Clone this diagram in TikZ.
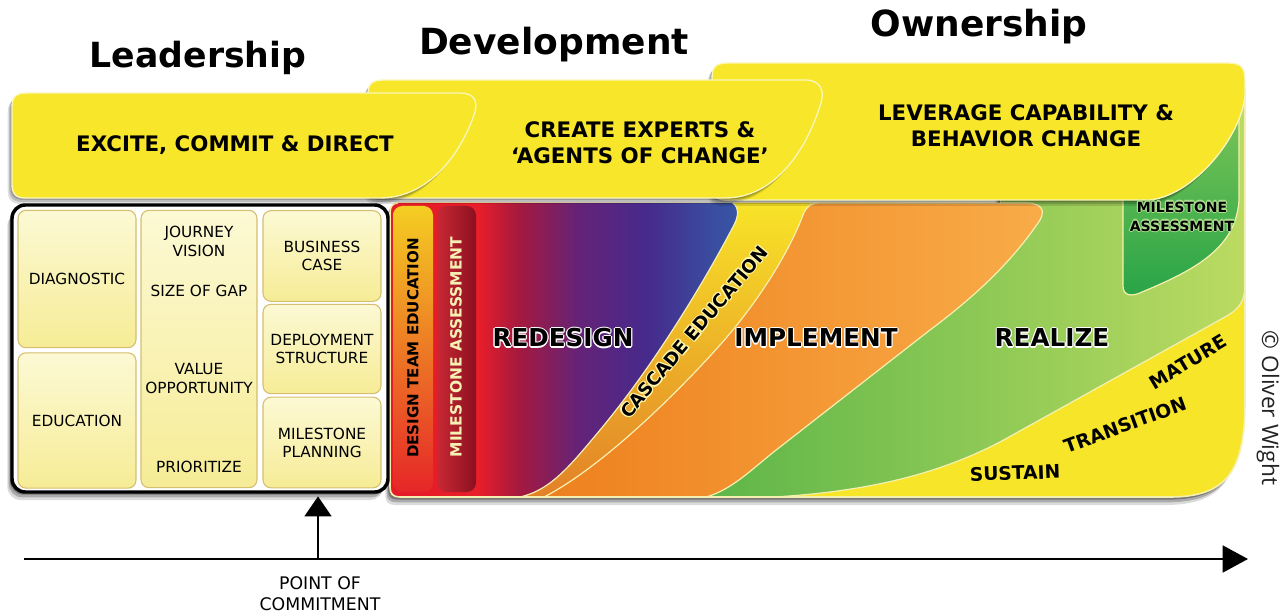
\documentclass[tikz,border=0pt]{standalone}
\usepackage{fontspec}
\setmainfont{DejaVu Sans}
\newfontfamily\creditfont{Open Sans}
\usetikzlibrary{arrows.meta,shadows}

% palette
\definecolor{bannerfill}{RGB}{247,230,42}
\definecolor{bannerrim}{RGB}{251,246,186}
\definecolor{panelfill}{RGB}{246,229,40}
\definecolor{rim}{RGB}{246,240,176}
\definecolor{cellTop}{RGB}{252,249,212}
\definecolor{cellBot}{RGB}{246,236,150}
\definecolor{cellEdge}{RGB}{214,190,112}
\definecolor{cascTop}{RGB}{248,229,40}
\definecolor{cascMid}{RGB}{245,200,32}
\definecolor{cascBot}{RGB}{226,128,40}
\definecolor{orangeA}{RGB}{238,128,30}
\definecolor{orangeB}{RGB}{248,172,72}
\definecolor{greenA}{RGB}{84,178,70}
\definecolor{greenB}{RGB}{188,219,98}
\definecolor{msgTop}{RGB}{122,196,86}
\definecolor{msgMid}{RGB}{56,172,74}
\definecolor{msgBot}{RGB}{40,164,72}
\definecolor{rb0}{RGB}{228,28,40}
\definecolor{rb1}{RGB}{232,30,42}
\definecolor{rb2}{RGB}{165,25,62}
\definecolor{rb3}{RGB}{100,35,120}
\definecolor{rb4}{RGB}{70,42,140}
\definecolor{rb5}{RGB}{58,78,160}
\definecolor{rb6}{RGB}{55,86,166}
\definecolor{barTop}{RGB}{244,206,34}
\definecolor{barMid}{RGB}{247,224,42}
\definecolor{barBot}{RGB}{230,38,40}
\definecolor{msLeft}{RGB}{200,40,52}
\definecolor{msRight}{RGB}{140,16,32}
\definecolor{msText}{RGB}{245,240,180}
\definecolor{glowYellow}{RGB}{255,246,170}
\definecolor{glowGreen}{RGB}{170,220,140}
\definecolor{creditInk}{RGB}{35,35,35}

\pgfdeclarehorizontalshading{redblue}{100bp}{color(0bp)=(rb0); color(25bp)=(rb0);
  color(37.9bp)=(rb1); color(43.6bp)=(rb2); color(52.1bp)=(rb3);
  color(61.7bp)=(rb4); color(71.1bp)=(rb5); color(75bp)=(rb6); color(100bp)=(rb6)}

% text with a thin halo around the glyphs
\newcommand\glowtext[2]{%
  \leavevmode
  \rlap{\textcolor{#1}{\kern.9pt#2}}%
  \rlap{\textcolor{#1}{\kern-.9pt#2}}%
  \rlap{\textcolor{#1}{\raisebox{.9pt}{#2}}}%
  \rlap{\textcolor{#1}{\raisebox{-.9pt}{#2}}}%
  \rlap{\textcolor{#1}{\kern.65pt\raisebox{.65pt}{#2}}}%
  \rlap{\textcolor{#1}{\kern-.65pt\raisebox{.65pt}{#2}}}%
  \rlap{\textcolor{#1}{\kern.65pt\raisebox{-.65pt}{#2}}}%
  \rlap{\textcolor{#1}{\kern-.65pt\raisebox{-.65pt}{#2}}}%
  #2}

% outlines of the coloured stages
\newcommand\panelpath{(398,203) -- (1000,203) -- (1000,75) -- (1232,75)
  .. controls (1241,75) and (1245,79) .. (1245,88) -- (1245,400)
  .. controls (1245,470) and (1228,497) .. (1170,497) -- (400,497)
  .. controls (393,497) and (390,494) .. (390,487) -- (390,213)
  .. controls (390,206) and (393,203) .. (398,203) -- cycle}
\newcommand\redpath{(386,200) -- (722,200) .. controls (738,200) and (741,212) .. (734,225)
  .. controls (700,290) and (650,370) .. (600,430)
  .. controls (565,472) and (545,497) .. (505,499) -- (386,500) -- cycle}
\newcommand\orangepath{(540,499) .. controls (600,470) and (680,390) .. (720,345)
  .. controls (760,300) and (790,250) .. (803,215)
  .. controls (806,207) and (810,203) .. (820,203) -- (1026,203)
  .. controls (1040,203) and (1046,209) .. (1040,220)
  .. controls (1010,265) and (970,300) .. (930,330) -- (780,447)
  .. controls (750,470) and (730,493) .. (698,499) -- cycle}
\newcommand\greenpath{(650,499) -- (1000,205) -- (1000,70) -- (1250,70) -- (1250,285)
  -- (1245,285) .. controls (1245,302) and (1238,310) .. (1225,317) -- (1000,442)
  .. controls (930,478) and (850,497) .. (720,499) -- cycle}
\newcommand\msgreenpath{(1123,110) -- (1123,286) .. controls (1123,296) and (1132,297) .. (1142,292)
  .. controls (1200,268) and (1236,246) .. (1239,200) -- (1239,110) -- cycle}

\begin{document}
\begin{tikzpicture}[x=0.75pt,y=-0.75pt,
  softshadow/.style={
    general shadow={fill=black,opacity=.18,shadow xshift=-1.2pt,shadow yshift=-1.5pt},
    general shadow={fill=black,opacity=.16,shadow xshift=-2.2pt,shadow yshift=-3pt},
    general shadow={fill=black,opacity=.12,shadow xshift=-3.2pt,shadow yshift=-4.5pt}},
  heavyshadow/.style={
    general shadow={fill=black,opacity=.30,shadow xshift=-1.5pt,shadow yshift=-2pt},
    general shadow={fill=black,opacity=.22,shadow xshift=-2.5pt,shadow yshift=-4pt},
    general shadow={fill=black,opacity=.14,shadow xshift=-3.5pt,shadow yshift=-6pt}},
  bannerbox/.style={softshadow,fill=bannerfill,draw=bannerrim,line width=1pt},
  title/.style={inner sep=0pt,font=\fontsize{26}{30}\selectfont\bfseries},
  bannertext/.style={inner sep=0pt,align=center,font=\fontsize{16}{19.5}\selectfont\bfseries},
  phase/.style={inner sep=0pt,font=\fontsize{18.5}{22}\selectfont\bfseries},
  cell/.style={draw=cellEdge,line width=.8pt,rounded corners=6pt,top color=cellTop,
    bottom color=cellBot,inner sep=0pt,align=center,font=\fontsize{11.5}{13.5}\selectfont},
  celltext/.style={inner sep=0pt,align=center,font=\fontsize{11.5}{14.25}\selectfont},
  bartext/.style={inner sep=0pt,rotate=90,font=\fontsize{11.3}{13}\selectfont\bfseries},
  stagetext/.style={inner sep=0pt,font=\fontsize{14}{16}\selectfont\bfseries},
  rimline/.style={draw=rim,line width=.9pt},
  axisline/.style={line width=2.2pt,-{Triangle[length=19pt,width=20pt]}},
  pointer/.style={line width=2.2pt,-{Triangle[length=15pt,width=20pt]}},
  note/.style={inner sep=0pt,align=center,font=\fontsize{13}{15.75}\selectfont}]

\useasboundingbox (0,0) rectangle (1287,616);

% ---------- coloured stage panel ----------
\path[heavyshadow,fill=panelfill] \panelpath;
\begin{scope}
  \clip \panelpath;
  \fill[panelfill] (380,60) rectangle (1260,510);
  \shade[top color=cascTop,middle color=cascMid,bottom color=cascBot]
    (386,200) -- (900,200) -- (640,500) -- (386,500) -- cycle;
  \shade[left color=greenA,right color=greenB,rimline] \greenpath;
  \shade[top color=msgTop,middle color=msgMid,bottom color=msgBot,rimline] \msgreenpath;
  \shade[left color=orangeA,right color=orangeB,rimline] \orangepath;
  \begin{scope}
    \clip \redpath;
    \shade[shading=redblue] (386,198) rectangle (742,502);
  \end{scope}
  \draw[rimline] (722,200) .. controls (738,200) and (741,212) .. (734,225)
    .. controls (700,290) and (650,370) .. (600,430)
    .. controls (565,472) and (545,497) .. (505,499);
  % education and assessment bars
  \shade[rounded corners=7pt,top color=barTop,middle color=barMid,bottom color=barBot]
    (393,206) rectangle (433,492);
  \shade[rounded corners=7pt,left color=msLeft,right color=msRight]
    (437,206) rectangle (476,492);
\end{scope}
\draw[rim,line width=1.2pt] (1245,90) -- (1245,400)
  .. controls (1245,470) and (1228,497) .. (1170,497) -- (400,497)
  .. controls (393,497) and (390,494) .. (390,487) -- (390,213)
  .. controls (390,206) and (393,203) .. (398,203);

% ---------- banners ----------
\path[bannerbox] (712,78) .. controls (712,67) and (716,63) .. (728,63) -- (1228,63)
  .. controls (1242,63) and (1245,68) .. (1245,82) -- (1245,95)
  .. controls (1242,135) and (1195,195) .. (1150,200) -- (728,200)
  .. controls (716,200) and (712,196) .. (712,188) -- cycle;
\path[bannerbox] (368,94) .. controls (368,84) and (372,80) .. (384,80) -- (805,80)
  .. controls (820,80) and (826,90) .. (820,106)
  .. controls (806,150) and (775,198) .. (725,198) -- (384,198)
  .. controls (372,198) and (368,194) .. (368,186) -- cycle;
\path[bannerbox] (12,107) .. controls (12,97) and (16,93) .. (27,93) -- (460,93)
  .. controls (474,93) and (479,101) .. (474,115)
  .. controls (458,160) and (425,198) .. (380,198) -- (26,198)
  .. controls (16,198) and (12,194) .. (12,184) -- cycle;

% ---------- leadership panel ----------
\node[heavyshadow,draw=black,line width=2.6pt,fill=white,rounded corners=10pt,
  minimum width=282pt,minimum height=215.25pt,inner sep=0pt] (lead) at (200,348.5) {};
\node[cell,minimum width=88.5pt,minimum height=103pt] (diagnostic) at (77,279) {DIAGNOSTIC};
\node[cell,minimum width=88.5pt,minimum height=101.5pt] (education) at (77,420.5) {EDUCATION};
\node[cell,minimum width=87pt,minimum height=208pt] (journeybox) at (199,349) {};
\node[cell,minimum width=88.5pt,minimum height=68pt] (business) at (322,256) {BUSINESS\\CASE};
\node[cell,minimum width=88.5pt,minimum height=67pt] (deployment) at (322,349) {DEPLOYMENT\\STRUCTURE};
\node[cell,minimum width=88.5pt,minimum height=68pt] (milestoneplan) at (322,442.5) {MILESTONE\\PLANNING};
\node[celltext] (journey) at (199,241.5) {JOURNEY\\VISION};
\node[celltext] (gap) at (199,291) {SIZE OF GAP};
\node[celltext] (value) at (199,378.5) {VALUE\\OPPORTUNITY};
\node[celltext] (prioritize) at (199,467) {PRIORITIZE};

% ---------- titles and banner texts ----------
\node[title,anchor=base] (leadership) at (198,68) {Leadership};
\node[title,anchor=base,font=\fontsize{27}{30}\selectfont\bfseries] (development) at (554,55) {Development};
\node[title,anchor=base,font=\fontsize{27}{30}\selectfont\bfseries] (ownership) at (979,37) {Ownership};
\node[bannertext,anchor=base] (excite) at (235,152) {EXCITE, COMMIT \& DIRECT};
\node[bannertext] (experts) at (640,143) {CREATE EXPERTS \&\\‘AGENTS OF CHANGE’};
\node[bannertext] (leverage) at (1026,126) {LEVERAGE CAPABILITY \&\\BEHAVIOR CHANGE};

% ---------- stage texts ----------
\node[bartext] (designteam) at (413,348) {DESIGN TEAM EDUCATION};
\node[bartext,text=msText,font=\fontsize{11.6}{13}\selectfont\bfseries] (assessbar) at (456,347) {MILESTONE ASSESSMENT};
\node[phase] (redesign) at (563,338) {\glowtext{white}{REDESIGN}};
\node[phase] (implement) at (816,338) {\glowtext{white}{IMPLEMENT}};
\node[phase] (realize) at (1052,338) {\glowtext{white}{REALIZE}};
\node[inner sep=0pt,rotate=50,font=\fontsize{13.5}{16}\selectfont\bfseries] (cascade) at (694,332)
  {\glowtext{glowYellow}{CASCADE EDUCATION}};
\node[inner sep=0pt,align=center,font=\fontsize{10.5}{14.25}\selectfont\bfseries] (assessgreen) at (1182,216.5)
  {\glowtext{glowGreen}{MILESTONE}\\\glowtext{glowGreen}{ASSESSMENT}};
\node[stagetext,rotate=2] (sustain) at (1015,473) {SUSTAIN};
\node[stagetext,rotate=20] (transition) at (1125,425) {TRANSITION};
\node[stagetext,rotate=31] (mature) at (1188,362) {MATURE};

% ---------- time axis ----------
\coordinate (axisstart) at (24,559);
\coordinate (axisend) at (1248,559);
\coordinate (commitfoot) at (318,559);
\draw[axisline] (axisstart) -- (axisend);
\draw[pointer,shorten >=2pt] (commitfoot) -- (commitfoot |- lead.south);
\node[note] (commitment) at (320,593.5) {POINT OF\\COMMITMENT};

\node[inner sep=0pt,rotate=-90,text=creditInk,font=\creditfont\fontsize{17}{20}\selectfont] (credit) at (1268,408) {© Oliver Wight};
\end{tikzpicture}
\end{document}
